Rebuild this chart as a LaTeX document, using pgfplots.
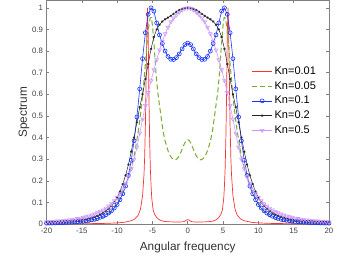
\documentclass[border=0pt]{standalone}
\usepackage{pgfplots}
\pgfplotsset{compat=1.18}
\usepackage{fontspec}
\setmainfont{Liberation Sans}
\definecolor{cred}{rgb}{1,0.2,0.2}
\definecolor{cgreen}{rgb}{0.47,0.67,0.19}
\definecolor{cblue}{rgb}{0.1,0.2,1}
\definecolor{cpurple}{rgb}{0.8,0.6,1}
\definecolor{caxis}{rgb}{0.5,0.5,0.5}
\begin{document}
\begin{tikzpicture}
\path[use as bounding box] (0,0) rectangle (343pt,255pt);
\begin{axis}[
  at={(46.5pt,31pt)}, anchor=south west,
  scale only axis, width=282.5pt, height=223.5pt,
  xmin=-20, xmax=20, ymin=0, ymax=1.034,
  xtick={-20,-15,...,20},
  xticklabels={-20,-15,-10,-5,0,5,10,15,20},
  ytick={0,0.1,...,1.0},
  yticklabels={0,0.1,0.2,0.3,0.4,0.5,0.6,0.7,0.8,0.9,1},
  tick align=inside, major tick length=3pt,
  axis line style={caxis, line width=0.5pt},
  every tick/.style={caxis, line width=0.5pt},
  tick label style={font=\fontsize{7.8}{9}\selectfont, text=black!75},
  xticklabel style={yshift=-1pt},
  xlabel={Angular frequency}, ylabel={Spectrum},
  label style={font=\fontsize{11.8}{13}\selectfont, text=black!80},
  xlabel style={yshift=-1pt},
  ylabel style={yshift=-4pt},
  legend style={draw=none, fill=none, at={(0.722,0.718)}, anchor=north west,
    font=\fontsize{11}{13}\selectfont, row sep=1.6pt, inner sep=1pt},
  legend cell align=left,
  legend image code/.code={\draw[mark repeat=2,mark phase=2] plot coordinates {(0pt,0pt) (10pt,0pt) (20pt,0pt)};},
]
\addplot[cred, line width=0.7pt] coordinates {
(-20,0.0006) (-15,0.0012) (-12,0.0025) (-10,0.005) (-9,0.008) (-8,0.015) (-7.5,0.023) (-7,0.041) (-6.7,0.068) (-6.4,0.13) (-6.2,0.226) (-6.1,0.31) (-6.0,0.45) (-5.9,0.65) (-5.8,0.88) (-5.7,1.0) (-5.6,0.88) (-5.5,0.6) (-5.4,0.4) (-5.3,0.26) (-5.2,0.18) (-5.1,0.12) (-4.9,0.065) (-4.7,0.045) (-4.4,0.03) (-4.0,0.019) (-3.5,0.013) (-3.0,0.011) (-2.5,0.01) (-1.5,0.009) (-0.7,0.01) (-0.4,0.013) (-0.2,0.018) (0,0.02)
(0.2,0.018) (0.4,0.013) (0.7,0.01) (1.5,0.009) (2.5,0.01) (3.0,0.011) (3.5,0.013) (4.0,0.019) (4.4,0.03) (4.7,0.045) (4.9,0.065) (5.1,0.12) (5.2,0.18) (5.3,0.26) (5.4,0.4) (5.5,0.6) (5.6,0.88) (5.7,1.0) (5.8,0.88) (5.9,0.65) (6.0,0.45) (6.1,0.31) (6.2,0.226) (6.4,0.13) (6.7,0.068) (7,0.041) (7.5,0.023) (8,0.015) (9,0.008) (10,0.005) (12,0.0025) (15,0.0012) (20,0.0006)
};
\addlegendentry{Kn=0.01}
\addplot[cgreen, line width=1pt, dash pattern=on 5pt off 3pt] coordinates {
(-20,0.002) (-18,0.003) (-17,0.0035) (-16,0.0045) (-15,0.006) (-14,0.009) (-13,0.015) (-12.5,0.02) (-12,0.027) (-11.5,0.037) (-11,0.05) (-10.5,0.07) (-10,0.095) (-9.5,0.125) (-9,0.16) (-8.5,0.205) (-8,0.26) (-7.5,0.33) (-7,0.43) (-6.75,0.49) (-6.5,0.56) (-6.25,0.645) (-6,0.74) (-5.75,0.84) (-5.5,0.92) (-5.3,0.955) (-5.15,0.955) (-5,0.92) (-4.75,0.82) (-4.5,0.7) (-4.25,0.61) (-4,0.55) (-3.75,0.49) (-3.5,0.43) (-3.25,0.39) (-3,0.36) (-2.75,0.335) (-2.5,0.317) (-2.25,0.305) (-2,0.298) (-1.75,0.297) (-1.5,0.302) (-1.25,0.313) (-1,0.33) (-0.75,0.35) (-0.5,0.37) (-0.25,0.385) (0,0.39)
(0.25,0.385) (0.5,0.37) (0.75,0.35) (1,0.33) (1.25,0.313) (1.5,0.302) (1.75,0.297) (2,0.298) (2.25,0.305) (2.5,0.317) (2.75,0.335) (3,0.36) (3.25,0.39) (3.5,0.43) (3.75,0.49) (4,0.55) (4.25,0.61) (4.5,0.7) (4.75,0.82) (5,0.92) (5.15,0.955) (5.3,0.955) (5.5,0.92) (5.75,0.84) (6,0.74) (6.25,0.645) (6.5,0.56) (6.75,0.49) (7,0.43) (7.5,0.33) (8,0.26) (8.5,0.205) (9,0.16) (9.5,0.125) (10,0.095) (10.5,0.07) (11,0.05) (11.5,0.037) (12,0.027) (12.5,0.02) (13,0.015) (14,0.009) (15,0.006) (16,0.0045) (17,0.0035) (18,0.003) (20,0.002)
};
\addlegendentry{Kn=0.05}
\addplot[cblue, line width=0.6pt, mark=o, mark size=2pt, mark options={solid}] coordinates {
(-20,0.0037) (-19.6,0.004) (-19.2,0.0044) (-18.8,0.0048) (-18.4,0.0052) (-18,0.0057) (-17.6,0.0063) (-17.2,0.007) (-16.8,0.0077) (-16.4,0.0085) (-16,0.0095) (-15.6,0.011) (-15.2,0.012) (-14.8,0.013) (-14.4,0.015) (-14,0.017) (-13.6,0.019) (-13.2,0.022) (-12.8,0.026) (-12.4,0.031) (-12,0.036) (-11.6,0.043) (-11.2,0.051) (-10.8,0.061) (-10.4,0.074) (-10,0.09) (-9.6,0.112) (-9.2,0.14) (-8.8,0.175) (-8.4,0.225) (-8,0.295) (-7.6,0.385) (-7.2,0.495) (-6.8,0.625) (-6.4,0.765) (-6,0.885) (-5.6,0.97) (-5.2,1.0) (-4.8,0.985) (-4.4,0.93) (-4,0.875) (-3.6,0.835) (-3.2,0.8) (-2.8,0.775) (-2.4,0.762) (-2,0.761) (-1.6,0.77) (-1.2,0.787) (-0.8,0.81) (-0.4,0.83) (0,0.837)
(0.4,0.83) (0.8,0.81) (1.2,0.787) (1.6,0.77) (2,0.761) (2.4,0.762) (2.8,0.775) (3.2,0.8) (3.6,0.835) (4,0.875) (4.4,0.93) (4.8,0.985) (5.2,1.0) (5.6,0.97) (6,0.885) (6.4,0.765) (6.8,0.625) (7.2,0.495) (7.6,0.385) (8,0.295) (8.4,0.225) (8.8,0.175) (9.2,0.14) (9.6,0.112) (10,0.09) (10.4,0.074) (10.8,0.061) (11.2,0.051) (11.6,0.043) (12,0.036) (12.4,0.031) (12.8,0.026) (13.2,0.022) (13.6,0.019) (14,0.017) (14.4,0.015) (14.8,0.013) (15.2,0.012) (15.6,0.011) (16,0.0095) (16.4,0.0085) (16.8,0.0077) (17.2,0.007) (17.6,0.0063) (18,0.0057) (18.4,0.0052) (18.8,0.0048) (19.2,0.0044) (19.6,0.004) (20,0.0037)
};
\addlegendentry{Kn=0.1}
\addplot[black!85, line width=0.5pt, mark=asterisk, mark size=1.2pt, mark options={solid}] coordinates {
(-20,0.0066) (-19.6,0.0071) (-19.2,0.0077) (-18.8,0.0083) (-18.4,0.009) (-18,0.0097) (-17.6,0.0105) (-17.2,0.0115) (-16.8,0.0126) (-16.4,0.0138) (-16,0.015) (-15.6,0.017) (-15.2,0.019) (-14.8,0.021) (-14.4,0.023) (-14,0.026) (-13.6,0.03) (-13.2,0.034) (-12.8,0.039) (-12.4,0.045) (-12,0.052) (-11.6,0.061) (-11.2,0.071) (-10.8,0.084) (-10.4,0.1) (-10,0.122) (-9.6,0.15) (-9.2,0.185) (-8.8,0.225) (-8.4,0.275) (-8,0.335) (-7.6,0.4) (-7.2,0.47) (-6.8,0.54) (-6.4,0.6) (-6,0.67) (-5.6,0.74) (-5.2,0.81) (-4.8,0.865) (-4.4,0.9) (-4,0.922) (-3.6,0.937) (-3.2,0.947) (-2.8,0.955) (-2.4,0.963) (-2,0.972) (-1.6,0.982) (-1.2,0.99) (-0.8,0.995) (-0.4,0.999) (0,1.0)
(0.4,0.999) (0.8,0.995) (1.2,0.99) (1.6,0.982) (2,0.972) (2.4,0.963) (2.8,0.955) (3.2,0.947) (3.6,0.937) (4,0.922) (4.4,0.9) (4.8,0.865) (5.2,0.81) (5.6,0.74) (6,0.67) (6.4,0.6) (6.8,0.54) (7.2,0.47) (7.6,0.4) (8,0.335) (8.4,0.275) (8.8,0.225) (9.2,0.185) (9.6,0.15) (10,0.122) (10.4,0.1) (10.8,0.084) (11.2,0.071) (11.6,0.061) (12,0.052) (12.4,0.045) (12.8,0.039) (13.2,0.034) (13.6,0.03) (14,0.026) (14.4,0.023) (14.8,0.021) (15.2,0.019) (15.6,0.017) (16,0.015) (16.4,0.0138) (16.8,0.0126) (17.2,0.0115) (17.6,0.0105) (18,0.0097) (18.4,0.009) (18.8,0.0083) (19.2,0.0077) (19.6,0.0071) (20,0.0066)
};
\addlegendentry{Kn=0.2}
\addplot[cpurple, line width=0.6pt, mark=triangle, mark size=2.2pt, mark options={solid, rotate=180}] coordinates {
(-20,0.0098) (-19.6,0.0105) (-19.2,0.0113) (-18.8,0.0122) (-18.4,0.0132) (-18,0.0143) (-17.6,0.0155) (-17.2,0.017) (-16.8,0.0185) (-16.4,0.02) (-16,0.022) (-15.6,0.025) (-15.2,0.027) (-14.8,0.03) (-14.4,0.033) (-14,0.037) (-13.6,0.041) (-13.2,0.046) (-12.8,0.052) (-12.4,0.058) (-12,0.065) (-11.6,0.073) (-11.2,0.083) (-10.8,0.094) (-10.4,0.107) (-10,0.122) (-9.6,0.14) (-9.2,0.162) (-8.8,0.188) (-8.4,0.218) (-8,0.255) (-7.6,0.3) (-7.2,0.355) (-6.8,0.42) (-6.4,0.485) (-6,0.548) (-5.6,0.608) (-5.2,0.663) (-4.8,0.713) (-4.4,0.76) (-4,0.805) (-3.6,0.845) (-3.2,0.88) (-2.8,0.91) (-2.4,0.935) (-2,0.953) (-1.6,0.968) (-1.2,0.98) (-0.8,0.99) (-0.4,0.997) (0,1.0)
(0.4,0.997) (0.8,0.99) (1.2,0.98) (1.6,0.968) (2,0.953) (2.4,0.935) (2.8,0.91) (3.2,0.88) (3.6,0.845) (4,0.805) (4.4,0.76) (4.8,0.713) (5.2,0.663) (5.6,0.608) (6,0.548) (6.4,0.485) (6.8,0.42) (7.2,0.355) (7.6,0.3) (8,0.255) (8.4,0.218) (8.8,0.188) (9.2,0.162) (9.6,0.14) (10,0.122) (10.4,0.107) (10.8,0.094) (11.2,0.083) (11.6,0.073) (12,0.065) (12.4,0.058) (12.8,0.052) (13.2,0.046) (13.6,0.041) (14,0.037) (14.4,0.033) (14.8,0.03) (15.2,0.027) (15.6,0.025) (16,0.022) (16.4,0.02) (16.8,0.0185) (17.2,0.017) (17.6,0.0155) (18,0.0143) (18.4,0.0132) (18.8,0.0122) (19.2,0.0113) (19.6,0.0105) (20,0.0098)
};
\addlegendentry{Kn=0.5}
\end{axis}
\end{tikzpicture}
\end{document}
